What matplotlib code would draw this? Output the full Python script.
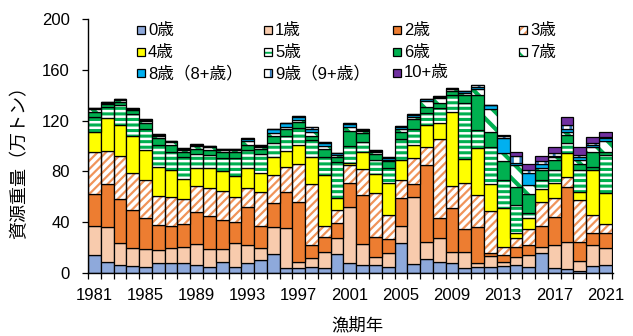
import matplotlib
matplotlib.use('Agg')
import matplotlib.pyplot as plt
from matplotlib.patches import Rectangle
from matplotlib import font_manager
import numpy as np

# 漁期年
years = list(range(1981, 2022))
ages = ['0歳', '1歳', '2歳', '3歳', '4歳', '5歳', '6歳', '7歳',
        '8歳（8+歳）', '9歳（9+歳）', '10+歳']

# 年齢別資源重量（万トン）
age0 = [14, 9, 6, 5.5, 5, 7.6, 7.6, 7.6, 6.2, 5,
        8.4, 5, 7.6, 10.2, 14.7, 4.2, 4.2, 5, 4.2, 14.7,
        7.6, 6.3, 6.3, 5, 23.9, 7.1, 11, 8.9, 8.1, 3.7,
        5, 5, 5.5, 6.3, 5, 16, 4, 2.9, 1.5, 5.5, 6.3]
age1 = [23, 27, 17.5, 14.5, 14, 10.4, 12.4, 13, 16.4, 14,
        10.6, 19, 14.4, 9.2, 21.8, 31, 4.7, 7, 12.6, 12.6,
        44.6, 16.5, 6.6, 11, 13.1, 52.5, 13.7, 18.4, 8.7, 13.1,
        3.1, 8, 3.4, 6.5, 9.2, 4.7, 18, 21.8, 8, 16.5, 13.1]
age2 = [25, 34, 35, 30, 24.6, 20, 17, 18.3, 25.7, 26,
        22.7, 16.5, 30, 17.6, 18.4, 28.8, 46.7, 10, 11.8, 11.7,
        18.4, 38.6, 15.1, 10.5, 21.8, 10.4, 60.3, 15.7, 34.1, 17.6,
        28.4, 3, 5.3, 7.9, 7.8, 16.3, 22, 43.3, 15.2, 9.2, 11.8]
age3 = [33, 26, 34, 29, 30, 22.6, 22.5, 19, 20.5, 22,
        23, 19.6, 15, 27, 22.3, 19.7, 30, 47.8, 8.4, 10.6,
        14.4, 20.2, 34.7, 19.2, 14.4, 20.3, 14.5, 62.3, 17.6, 36.2,
        24.9, 33, 6, 6.6, 12.4, 19.2, 15, 7.3, 32.8, 14.5, 7.4]
age4 = [16, 26, 24, 29, 23, 23, 21.5, 16.5, 14.2, 16,
        15.4, 16.6, 16, 14.5, 14.4, 12.3, 15.4, 21.8, 40.2, 9.7,
        2, 13.9, 15.3, 25.4, 15.8, 10.5, 17, 13.1, 58.5, 18.9,
        36.8, 21, 30.7, 3.9, 8.6, 9.7, 12, 18.9, 6.5, 35.3, 24.1]
age5 = [12, 9, 15.5, 17, 17, 17, 14.5, 17, 11, 10,
        10.3, 13.7, 13.8, 15, 10.4, 12, 13, 13, 14.4, 28.3,
        13, 8, 11, 11.3, 16.3, 12.2, 9.2, 11.3, 13, 44.5,
        14.4, 29, 22.3, 22.3, 4, 7.3, 10, 8.4, 17, 2.7, 30.2]
age6 = [4, 2, 3, 3, 4.5, 5.7, 5.5, 4, 4, 4,
        4.7, 4.7, 4.2, 4.2, 6, 5, 4.6, 3.5, 6.4, 4,
        12, 6.6, 4.7, 5.4, 6, 8, 5.3, 3.9, 3.6, 6,
        27.6, 12, 15.2, 14.5, 15.2, 7.9, 8, 6.1, 4.8, 11.8, 2.6]
age7 = [2, 1, 1.5, 1, 1.5, 1.5, 2, 1.5, 2, 2,
        1.5, 1.5, 3, 1.5, 2, 2, 2, 3, 2, 1.5,
        3, 1.5, 1.5, 1.5, 2, 2, 4.7, 3.9, 1, 1.8,
        4.4, 18.4, 5.8, 17, 7.1, 1.9, 2, 2.6, 3.2, 3.5, 8.7]
age8 = [1, 0.5, 0.5, 0.5, 1, 1, 1, 1, 1, 1,
        0.7, 1, 1.5, 1, 3.4, 2.8, 2.4, 2.5, 2.5, 1,
        2, 1, 1.2, 1.3, 1.5, 1.5, 1, 1, 0.5, 1.2,
        2, 2.6, 11.8, 2, 9.2, 2.6, 1.5, 1.7, 2, 1.6, 1.8]
age9 = [0.3, 0.3, 0.3, 0.3, 0.3, 0.3, 0.3, 0.3, 0.3, 0.3,
        0.3, 0.3, 0.5, 0.3, 0.3, 0.3, 0.3, 1, 1, 0.5,
        1, 0.5, 0.5, 0.5, 1, 1, 0.5, 0.5, 0.3, 0.5,
        1.4, 0.5, 1.5, 5.1, 2.6, 2.8, 2, 3.5, 1.6, 2, 1.3]
age10 = [0] * 32 + [1.0, 3.4, 4.5, 3.7, 4.5, 6.1, 6.4, 4.4, 4]

series = [age0, age1, age2, age3, age4, age5, age6, age7, age8, age9, age10]

# 塗り: (色, ハッチ, ハッチ線幅)
styles = [
    ('#8EA9DB', None, 0),
    ('#F8CBAD', None, 0),
    ('#ED7D31', None, 0),
    ('#F0945A', '////', 1.6),
    ('#FFFF00', None, 0),
    ('#00B050', '---', 2.2),
    ('#00B050', None, 0),
    ('#00B050', '\\\\', 3.0),
    ('#00B0F0', None, 0),
    ('#2E75B6', '||', 2.0),
    ('#7030A0', None, 0),
]

names = {f.name for f in font_manager.fontManager.ttflist}
base = 'Liberation Sans Narrow' if 'Liberation Sans Narrow' in names else 'Liberation Sans'
fs = 14 if base == 'Liberation Sans Narrow' else 12
plt.rcParams['font.family'] = [base, 'Noto Sans CJK JP', 'DejaVu Sans']
plt.rcParams['hatch.linewidth'] = 1.8

fig = plt.figure(figsize=(6.33, 3.36), dpi=100)
ax = fig.add_axes([88 / 633, 63 / 336, 525 / 633, 254 / 336])


def set_hlw(patch, lw):
    if hasattr(patch, 'set_hatch_linewidth'):
        patch.set_hatch_linewidth(lw)


bottom = np.zeros(len(years))
for vals, (c, h, hlw) in zip(series, styles):
    v = np.array(vals, dtype=float)
    if h:
        bars = ax.bar(years, v, width=1.0, bottom=bottom, color='white',
                      edgecolor=c, hatch=h, linewidth=0)
        for p in bars:
            set_hlw(p, hlw)
        ax.bar(years, v, width=1.0, bottom=bottom, fill=False,
               edgecolor='black', linewidth=0.9)
    else:
        ax.bar(years, v, width=1.0, bottom=bottom, color=c,
               edgecolor='black', linewidth=0.9)
    bottom += v

ax.set_xlim(1980.5, 2021.6)
ax.set_ylim(0, 200)
ax.set_yticks(range(0, 201, 40))
ax.set_xticks(range(1981, 2022, 4))
ax.set_xticks(np.arange(1980.5, 2022, 1), minor=True)
ax.tick_params(axis='x', which='major', length=0, pad=11, labelsize=fs)
ax.tick_params(axis='x', which='minor', length=4, direction='out', width=0.9)
ax.tick_params(axis='y', length=4, direction='out', width=0.9, labelsize=fs, pad=9)
for s in ['top', 'right']:
    ax.spines[s].set_visible(False)
for s in ['left', 'bottom']:
    ax.spines[s].set_linewidth(1.0)

fig.text(20 / 633, 1 - 158 / 336, '資源重量（万トン）', rotation=90,
         ha='center', va='center', fontsize=fs + 1)
fig.text(357 / 633, 1 - 325 / 336, '漁期年', ha='center', va='center', fontsize=fs + 0.5)

# 凡例（4列×3行）
col_x = [141, 268, 397, 523]
row_y = [30, 52, 73]
msize = 8
for k, (lab, (c, h, hlw)) in enumerate(zip(ages, styles)):
    cx = col_x[k % 4]
    cy = row_y[k // 4]
    x0 = (cx - msize / 2) / 633
    y0 = 1 - (cy + msize / 2) / 336
    w = msize / 633
    hh = msize / 336
    if h:
        r = Rectangle((x0, y0), w, hh, transform=fig.transFigure,
                      facecolor='white', edgecolor=c, hatch=h, linewidth=0)
        set_hlw(r, min(hlw, 1.4))
        fig.add_artist(r)
        fig.add_artist(Rectangle((x0, y0), w, hh, transform=fig.transFigure,
                                 fill=False, edgecolor='black', linewidth=0.9))
    else:
        fig.add_artist(Rectangle((x0, y0), w, hh, transform=fig.transFigure,
                                 facecolor=c, edgecolor='black', linewidth=0.9))
    fig.text((cx + 7) / 633, 1 - cy / 336, lab, ha='left', va='center', fontsize=fs)

fig.savefig('out.png', dpi=100)
